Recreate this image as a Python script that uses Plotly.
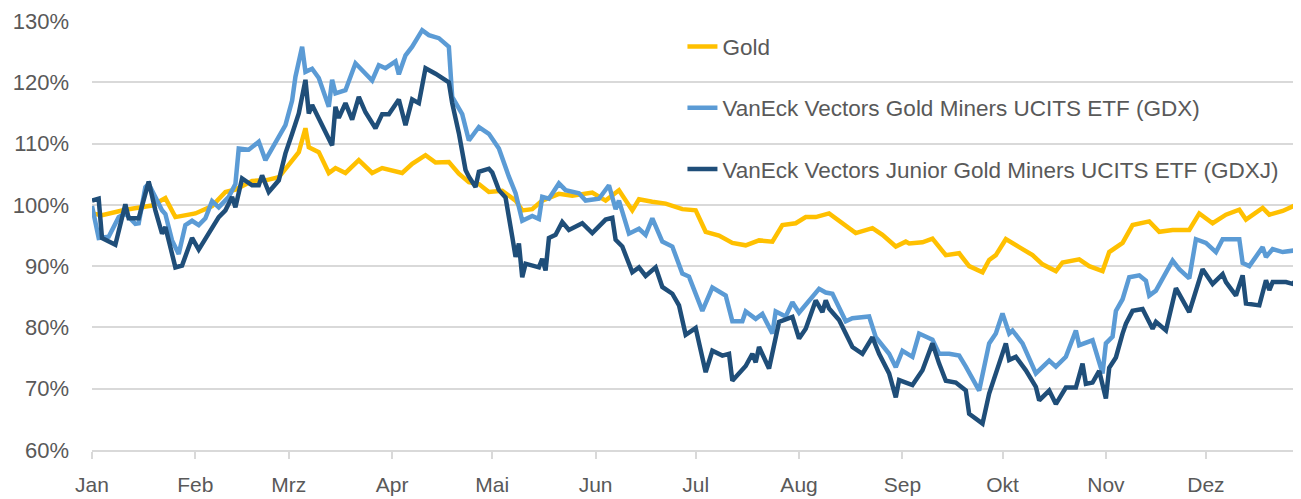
import pandas as pd
import plotly.graph_objects as go

# ---- data (x = day of year 2022, y = % of start) ----
gold_days = [0, 3, 10, 18, 22, 25, 31, 36, 40, 43, 48, 52, 56, 60, 62, 64, 65, 68, 71, 73, 76, 80, 84, 87, 91,
             93, 96, 100, 103, 107, 110, 113, 116, 119, 123, 127, 129, 132, 135, 140, 144, 150, 154, 158, 162,
             164, 168, 172, 177, 181, 184, 188, 192, 196, 200, 204, 207, 211, 214, 217, 221, 225, 229, 234, 237,
             241, 244, 245, 249, 252, 256, 260, 263, 267, 269, 271, 274, 278, 282, 285, 289, 291, 296, 299, 303,
             305, 309, 312, 317, 320, 324, 329, 332, 336, 340, 344, 346, 351, 353, 357, 361]
gold_vals = [98.6, 98.3, 99.2, 99.9, 101.1, 98.0, 98.6, 99.8, 102.1, 102.5, 103.9, 104.0, 104.5, 107.1, 108.6,
             112.5, 109.4, 108.6, 105.2, 106.0, 105.2, 107.3, 105.2, 106.0, 105.5, 105.2, 106.7, 108.1, 106.9,
             107.0, 105.1, 103.7, 103.4, 102.1, 102.3, 100.7, 99.1, 99.3, 100.7, 101.8, 101.5, 102.0, 100.7,
             102.4, 99.1, 100.9, 100.5, 100.2, 99.3, 99.1, 95.6, 95.0, 93.8, 93.4, 94.2, 94.0, 96.7, 97.0, 98.0,
             98.0, 98.6, 97.0, 95.4, 96.2, 95.1, 93.2, 94.0, 93.7, 93.9, 94.5, 91.8, 92.1, 90.0, 89.0, 91.0, 91.8,
             94.4, 93.1, 91.8, 90.3, 89.2, 90.6, 91.1, 90.0, 89.2, 92.3, 93.8, 96.7, 97.3, 95.6, 95.9, 95.9, 98.6,
             97.0, 98.4, 99.2, 97.6, 99.5, 98.4, 99.0, 100.0]

gdx_days = [0, 2, 5, 8, 10, 13, 14, 16, 17, 21, 22, 24, 26, 28, 30, 32, 34, 36, 38, 41, 43, 44, 47, 50, 52, 55,
            57, 58, 60, 61, 63, 64, 66, 68, 71, 72, 73, 76, 79, 82, 84, 86, 88, 91, 92, 94, 96, 99, 101, 104, 107,
            108, 111, 113, 116, 119, 122, 125, 127, 129, 132, 134, 135, 137, 140, 142, 146, 148, 152, 155, 157,
            158, 161, 164, 166, 168, 171, 174, 177, 179, 182, 183, 186, 190, 192, 195, 196, 199, 201, 204, 205,
            208, 210, 212, 218, 220, 222, 226, 228, 233, 235, 239, 241, 243, 246, 248, 252, 254, 257, 260, 262,
            266, 269, 271, 273, 275, 276, 279, 283, 287, 289, 292, 295, 296, 300, 302, 303, 304, 306, 307, 309,
            311, 314, 316, 317, 319, 322, 324, 326, 329, 331, 334, 337, 339, 344, 345, 347, 351, 352, 354, 357, 361]
gdx_vals = [99.8, 94.6, 94.8, 98.0, 98.6, 96.9, 97.0, 102.9, 103.4, 99.1, 98.5, 94.2, 92.0, 96.7, 97.4, 96.7,
            97.8, 100.6, 99.6, 101.3, 103.4, 109.2, 109.0, 110.3, 107.3, 110.0, 111.9, 113.0, 117.0, 120.9, 125.8,
            121.7, 122.2, 120.7, 116.0, 120.4, 118.2, 118.7, 123.1, 121.3, 120.3, 122.8, 122.3, 123.4, 121.3,
            124.4, 125.8, 128.5, 127.7, 127.2, 125.8, 117.6, 114.8, 110.5, 112.7, 111.6, 109.2, 104.6, 101.9,
            97.4, 98.2, 97.7, 101.3, 101.0, 103.5, 102.4, 101.9, 100.7, 101.0, 103.2, 99.3, 100.7, 95.3, 96.1,
            95.1, 97.8, 94.0, 93.2, 88.8, 88.3, 83.9, 82.7, 86.5, 85.2, 81.0, 81.0, 82.6, 81.4, 82.2, 79.0, 82.6,
            81.8, 84.1, 82.4, 86.3, 85.7, 85.5, 81.0, 81.5, 81.8, 78.4, 75.7, 73.5, 76.2, 75.2, 79.0, 78.0, 75.7,
            75.7, 75.4, 73.6, 69.7, 77.4, 79.0, 82.3, 79.0, 79.5, 77.4, 72.5, 74.6, 73.6, 75.2, 79.5, 77.1, 77.9,
            74.1, 72.5, 77.4, 78.5, 82.7, 84.6, 88.2, 88.5, 87.6, 85.2, 86.0, 88.8, 90.9, 89.5, 88.0, 94.4, 93.8,
            92.3, 94.4, 94.4, 90.5, 90.0, 93.1, 91.5, 92.8, 92.3, 92.6]

gdxj_days = [0, 2, 3, 7, 10, 11, 14, 17, 19, 21, 22, 25, 27, 30, 32, 38, 40, 42, 43, 45, 48, 50, 51, 53, 56, 58,
             60, 62, 64, 65, 66, 68, 72, 73, 74, 76, 78, 80, 82, 85, 87, 89, 92, 94, 96, 98, 100, 103, 107, 108,
             110, 112, 113, 115, 116, 119, 120, 122, 124, 126, 127, 128, 129, 130, 134, 135, 136, 137, 139, 141,
             143, 147, 150, 154, 156, 157, 159, 162, 164, 166, 169, 171, 174, 176, 178, 181, 184, 186, 189, 191,
             192, 196, 198, 199, 200, 203, 206, 210, 212, 214, 217, 219, 220, 221, 224, 228, 231, 234, 236, 239,
             241, 242, 246, 249, 252, 254, 256, 259, 262, 263, 267, 269, 271, 274, 275, 277, 280, 283, 284, 287,
             289, 292, 295, 297, 298, 300, 302, 304, 305, 307, 309, 310, 312, 315, 318, 319, 322, 325, 329, 333,
             336, 339, 340, 343, 345, 346, 350, 352, 353, 354, 358, 360, 361]
gdxj_vals = [100.7, 101.0, 94.6, 93.5, 100.1, 97.8, 97.8, 103.8, 99.1, 95.3, 96.4, 89.8, 90.1, 94.6, 92.7, 98.0,
             99.1, 101.3, 99.6, 104.3, 103.2, 103.2, 104.8, 102.1, 104.0, 108.4, 111.6, 114.9, 120.4, 114.9, 116.3,
             114.2, 109.7, 116.0, 114.2, 116.6, 113.9, 117.6, 115.1, 112.5, 114.8, 114.8, 117.2, 113.0, 117.2,
             116.6, 122.3, 121.4, 120.0, 116.6, 111.7, 105.7, 104.6, 102.9, 105.4, 105.9, 105.3, 102.4, 101.2,
             94.8, 91.5, 93.7, 88.2, 90.4, 89.8, 91.2, 89.3, 94.6, 95.1, 97.2, 95.9, 97.0, 95.4, 97.6, 97.9, 94.3,
             93.2, 89.0, 89.8, 88.4, 89.8, 86.6, 85.5, 83.6, 78.8, 79.9, 72.7, 76.2, 75.4, 75.7, 71.3, 73.7, 75.7,
             74.3, 76.8, 73.3, 80.9, 81.7, 78.2, 79.8, 84.4, 82.5, 84.4, 83.1, 81.2, 76.8, 75.7, 78.4, 75.7, 72.5,
             68.6, 71.4, 70.6, 73.0, 77.4, 74.1, 71.3, 71.0, 69.7, 65.9, 64.3, 69.2, 72.7, 77.4, 74.7, 75.2, 73.0,
             70.3, 68.1, 69.7, 67.5, 70.2, 70.2, 74.1, 70.8, 71.0, 72.9, 68.4, 73.4, 75.1, 79.0, 80.6, 82.7, 83.0,
             79.8, 80.9, 79.5, 86.4, 82.5, 89.5, 87.1, 88.7, 87.4, 85.2, 88.5, 83.9, 83.6, 87.7, 86.1, 87.4, 87.4,
             87.1, 87.7]

month_starts = ["2022-01-01", "2022-02-01", "2022-03-01", "2022-04-01", "2022-05-01", "2022-06-01",
                "2022-07-01", "2022-08-01", "2022-09-01", "2022-10-01", "2022-11-01", "2022-12-01"]
month_labels = ["Jan", "Feb", "Mrz", "Apr", "Mai", "Jun", "Jul", "Aug", "Sep", "Okt", "Nov", "Dez"]

series_names = ["Gold", "VanEck Vectors Gold Miners UCITS ETF (GDX)",
                "VanEck Vectors Junior Gold Miners UCITS ETF (GDXJ)"]
series_colors = ["#FFC000", "#5B9BD5", "#1F4E79"]

start = pd.Timestamp("2022-01-01")


def to_dates(days):
    return start + pd.to_timedelta(days, unit="D")


fig = go.Figure()
for name, color, days, vals in zip(series_names, series_colors,
                                   [gold_days, gdx_days, gdxj_days],
                                   [gold_vals, gdx_vals, gdxj_vals]):
    fig.add_trace(go.Scatter(x=to_dates(days), y=vals, name=name, mode="lines",
                             legendgroup=name,
                             line=dict(color=color, width=4.5)))

grey = "#595959"
# the page body has an 8px default margin, so the figure is sized to fill the
# remaining 1293x491 of the 1301x499 window
fig.update_layout(
    width=1293, height=491,
    margin=dict(l=84, r=4, t=13, b=49, autoexpand=False),
    paper_bgcolor="white", plot_bgcolor="white",
    font=dict(family="Liberation Sans, Arial, sans-serif", size=21, color=grey),
    showlegend=True,
    legend=dict(x=0.49, y=0.99, xanchor="left", yanchor="top",
                bgcolor="rgba(0,0,0,0)", tracegroupgap=29,
                font=dict(size=22.5, color=grey)),
    xaxis=dict(range=[start, start + pd.Timedelta(days=361.3)], automargin=False,
               tickvals=pd.to_datetime(month_starts), ticktext=month_labels,
               showgrid=False, zeroline=False,
               showline=True, linecolor="#d9d9d9", linewidth=2,
               ticks="outside", ticklen=7, tickwidth=2, tickcolor="#d9d9d9",
               ticklabelstandoff=8, tickfont=dict(size=21, color=grey)),
    yaxis=dict(range=[60, 130], dtick=10, ticksuffix="%", automargin=False,
               showgrid=True, gridcolor="#d9d9d9", gridwidth=2,
               zeroline=False, showline=False, ticks="",
               ticklabelstandoff=22, tickfont=dict(size=22, color=grey)),
)

fig.write_html("out.html")
